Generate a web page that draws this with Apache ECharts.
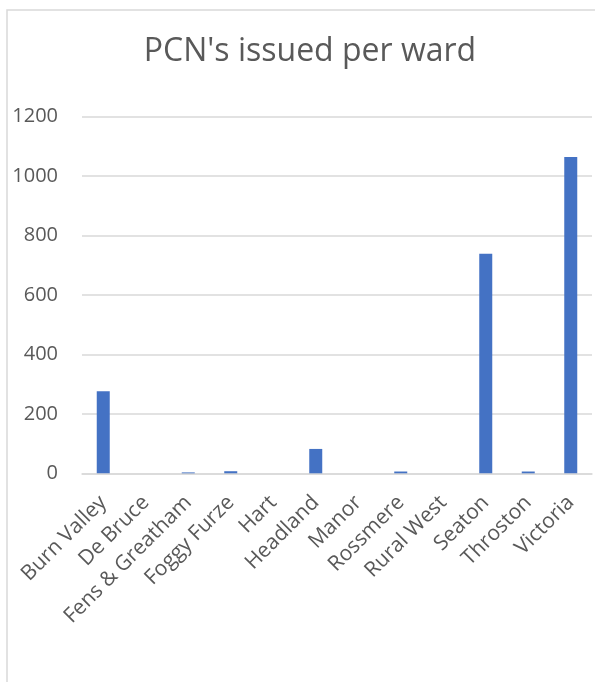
<!DOCTYPE html>
<html>
<head>
<meta charset="utf-8">
<script src="https://cdn.jsdelivr.net/npm/echarts@6/dist/echarts.min.js"></script>
<style>
html,body{margin:0;padding:0;background:#fff;}
#chart{width:595px;height:682px;}
</style>
</head>
<body>
<div id="chart"></div>
<script>
var titleText = "PCN's issued per ward";
var categories = ["Burn Valley","De Bruce","Fens & Greatham","Foggy Furze","Hart","Headland","Manor","Rossmere","Rural West","Seaton","Throston","Victoria"];
var pcnValues = [276, 0, 3, 7, 0, 82, 0, 6, 0, 739, 6, 1064];
var yTicks = [0, 200, 400, 600, 800, 1000, 1200];

var chart = echarts.init(document.getElementById('chart'), null, {renderer:'canvas'});
chart.setOption({
  animation: false,
  backgroundColor: '#ffffff',
  title: {
    text: titleText,
    left: 305,
    textAlign: 'center',
    top: 31,
    textStyle: {fontFamily: 'Open Sans', fontSize: 32, fontWeight: 'normal', color: '#595959'}
  },
  graphic: [{
    type: 'rect',
    shape: {x: 7, y: 10, width: 700, height: 800},
    style: {fill: 'none', stroke: '#d9d9d9', lineWidth: 1.5},
    silent: true
  }],
  grid: {left: 82, right: 3, top: 116.7, bottom: 208.7, outerBoundsMode: 'none', containLabel: false},
  xAxis: {
    type: 'category',
    data: categories,
    axisTick: {show: false},
    axisLine: {show: true, lineStyle: {color: '#d9d9d9', width: 1.5}},
    axisLabel: {rotate: 45, interval: 0, margin: 26, fontFamily: 'Open Sans', fontSize: 21, color: '#595959'}
  },
  yAxis: {
    type: 'value',
    min: yTicks[0],
    max: yTicks[yTicks.length - 1],
    interval: 200,
    axisLine: {show: false},
    axisTick: {show: false},
    splitLine: {lineStyle: {color: '#d9d9d9', width: 1.5}},
    axisLabel: {margin: 24, fontFamily: 'Open Sans', fontSize: 20, color: '#595959', formatter: function (v) { return String(v); }}
  },
  series: [{
    type: 'bar',
    data: pcnValues,
    barWidth: 13,
    itemStyle: {color: '#4472C4'}
  }]
});
</script>
</body>
</html>
